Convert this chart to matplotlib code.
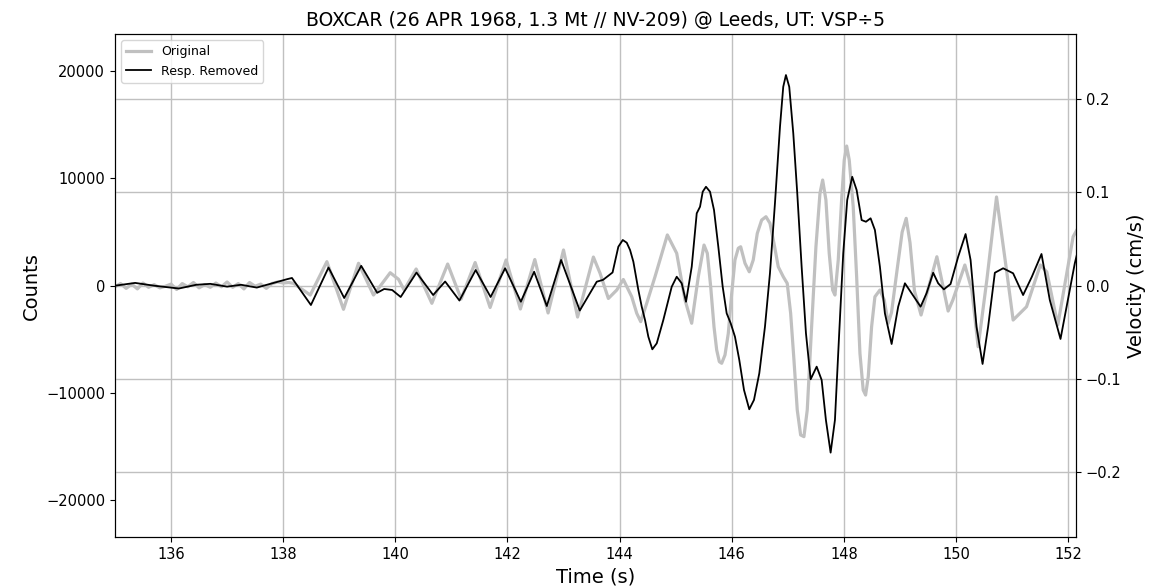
# BOXCAR seismogram at Leeds: raw counts vs. response-removed velocity
import numpy as np
import matplotlib.pyplot as plt

# original trace (counts)
orig_t = [135.0, 135.1, 135.2, 135.3, 135.4, 135.5, 135.6, 135.7, 135.8, 135.9,
          136.0, 136.1, 136.2, 136.3, 136.4, 136.5, 136.6, 136.7, 136.8, 136.9,
          137.0, 137.1, 137.2, 137.3, 137.4, 137.5, 137.6, 137.7, 137.8, 137.9,
          138.0, 138.1, 138.185, 138.483, 138.78, 139.076, 139.344, 139.611, 139.909, 140.057,
          140.158, 140.372, 140.652, 140.934, 141.174, 141.424, 141.691, 141.976, 142.231, 142.488,
          142.725, 143.0, 143.251, 143.533, 143.652, 143.8, 143.95, 144.067, 144.217, 144.306,
          144.377, 144.484, 144.632, 144.852, 145.019, 145.167, 145.286, 145.404, 145.506, 145.565,
          145.625, 145.684, 145.732, 145.779, 145.821, 145.88, 145.939, 146.0, 146.058, 146.117,
          146.16, 146.237, 146.313, 146.384, 146.456, 146.534, 146.611, 146.682, 146.754, 146.83,
          146.919, 146.99, 147.051, 147.11, 147.169, 147.229, 147.288, 147.347, 147.425, 147.502,
          147.574, 147.622, 147.68, 147.739, 147.8, 147.841, 147.9, 147.96, 148.007, 148.05,
          148.096, 148.167, 148.228, 148.287, 148.345, 148.388, 148.435, 148.495, 148.554, 148.643,
          148.72, 148.791, 148.85, 148.95, 149.04, 149.112, 149.18, 149.26, 149.377, 149.659,
          149.86, 149.944, 150.158, 150.283, 150.395, 150.55, 150.723, 150.901, 151.019, 151.258,
          151.504, 151.62, 151.816, 152.089, 152.155]
orig_counts = [-100, 200, -250, 150, -300, 250, -150, 100, -200, -50,
               150, -350, 200, -100, 300, -200, 100, -150, 250, -100,
               350, -150, 200, -300, 300, -50, 150, -250, 200, 350,
               250, 300, 220, -870, 2240, -2200, 2090, -870, 1210, 600,
               -400, 1560, -1640, 2020, -1240, 2160, -2030, 2400, -2170, 2440,
               -2540, 3330, -2920, 2670, 1160, -1190, -400, 580, -1030, -2570,
               -3350, -1640, 840, 4730, 3020, -1330, -3500, 840, 3790, 3020,
               -90, -3820, -5990, -7080, -7230, -6460, -4440, -710, 2400, 3490,
               3630, 2090, 1300, 2400, 4880, 6120, 6430, 5820, 3950, 1770,
               840, 220, -2570, -6920, -11590, -13910, -14070, -11590, -3820, 3630,
               8610, 9850, 7990, 3020, -400, -870, 2400, 7990, 11720, 13020,
               11720, 7360, 840, -6300, -9720, -10190, -8480, -3820, -1030, -400,
               -1330, -3500, -2500, 1500, 5000, 6280, 4000, -500, -2730, 2700,
               -2360, -1330, 1930, -400, -5690, 530, 8270, 1460, -3200, -1960,
               1930, 1280, -3660, 4570, 5190]

# response-removed trace (cm/s)
vel_t = [135.0, 135.36, 135.7, 136.14, 136.45, 136.7, 137.0, 137.25, 137.53, 137.89,
         138.07, 138.157, 138.495, 138.809, 139.089, 139.392, 139.677, 139.802, 139.944, 140.096,
         140.378, 140.675, 140.889, 141.144, 141.433, 141.7, 141.959, 142.239, 142.476, 142.702,
         142.957, 143.29, 143.593, 143.706, 143.875, 143.978, 144.057, 144.128, 144.187, 144.246,
         144.335, 144.395, 144.454, 144.513, 144.584, 144.663, 144.78, 144.93, 145.019, 145.108,
         145.185, 145.287, 145.376, 145.435, 145.483, 145.541, 145.613, 145.684, 145.761, 145.839,
         145.91, 145.982, 146.058, 146.135, 146.219, 146.313, 146.397, 146.492, 146.593, 146.682,
         146.771, 146.861, 146.919, 146.967, 147.026, 147.098, 147.169, 147.247, 147.324, 147.408,
         147.515, 147.604, 147.68, 147.764, 147.841, 147.917, 147.989, 148.06, 148.149, 148.228,
         148.317, 148.394, 148.477, 148.554, 148.643, 148.732, 148.852, 148.969, 149.089, 149.208,
         149.369, 149.475, 149.593, 149.682, 149.784, 149.903, 150.039, 150.171, 150.26, 150.366,
         150.474, 150.573, 150.693, 150.841, 151.019, 151.197, 151.353, 151.525, 151.673, 151.864,
         152.119, 152.155]
vel = [0.0, 0.003, 0.0, -0.003, 0.001, 0.002, -0.001, 0.001, -0.002, 0.004,
       0.007, 0.0083, -0.0207, 0.0195, -0.0132, 0.0213, -0.0076, -0.0035, -0.0046, -0.0121,
       0.0141, -0.0100, 0.0045, -0.0159, 0.0168, -0.0121, 0.0187, -0.0172, 0.0150, -0.0218,
       0.0276, -0.0266, 0.0043, 0.0063, 0.0142, 0.0418, 0.0490, 0.0461, 0.0383, 0.0257,
       -0.0046, -0.0225, -0.0368, -0.0547, -0.0682, -0.0618, -0.0368, -0.0011, 0.0096, 0.0026,
       -0.0172, 0.0204, 0.0776, 0.0847, 0.1008, 0.1061, 0.1008, 0.0812, 0.0418, -0.0011,
       -0.0296, -0.0403, -0.0547, -0.0796, -0.1118, -0.1325, -0.1225, -0.0939, -0.0440, 0.0133,
       0.0883, 0.1705, 0.2133, 0.2259, 0.2133, 0.1634, 0.0991, 0.0204, -0.0510, -0.1003,
       -0.0868, -0.1011, -0.1440, -0.1790, -0.1440, -0.0510, 0.0347, 0.0919, 0.1168, 0.1026,
       0.0704, 0.0686, 0.0723, 0.0597, 0.0204, -0.0296, -0.0625, -0.0225, 0.0026, -0.0081,
       -0.0225, -0.0081, 0.0139, 0.0026, -0.0039, 0.0018, 0.0311, 0.0554, 0.0276, -0.0440,
       -0.0839, -0.0440, 0.0139, 0.0187, 0.0133, -0.0100, 0.0096, 0.0340, -0.0153, -0.0571,
       0.0240, 0.0330]

fig = plt.figure(figsize=(11.53, 5.88), dpi=100)
ax = fig.add_axes([0.0997, 0.0862, 0.8335, 0.8558])
ax2 = ax.twinx()

l1, = ax.plot(orig_t, orig_counts, color="#c0c0c0", lw=2.3, label="Original")
l2, = ax2.plot(vel_t, vel, color="black", lw=1.3, label="Resp. Removed")

ax.set_xlim(135, 152.14)
ax.set_ylim(-23450, 23450)
ax2.set_ylim(-0.2698, 0.2698)
ax.set_xticks(np.arange(136, 153, 2))
ax.set_yticks([-20000, -10000, 0, 10000, 20000])
ax2.set_yticks([-0.2, -0.1, 0.0, 0.1, 0.2])

ax.grid(axis="x", color="#c0c0c0", lw=1)
ax2.grid(axis="y", color="#c0c0c0", lw=1)

ax.tick_params(labelsize=10.5)
ax2.tick_params(labelsize=10.5)
ax.set_xlabel("Time (s)", fontsize=14)
ax.set_ylabel("Counts", fontsize=14)
ax2.set_ylabel("Velocity (cm/s)", fontsize=14)
ax.set_title("BOXCAR (26 APR 1968, 1.3 Mt // NV-209) @ Leeds, UT: VSP÷5", fontsize=13.5)

ax2.legend(handles=[l1, l2], loc="upper left", fontsize=9)

fig.savefig("out.png", dpi=100)
